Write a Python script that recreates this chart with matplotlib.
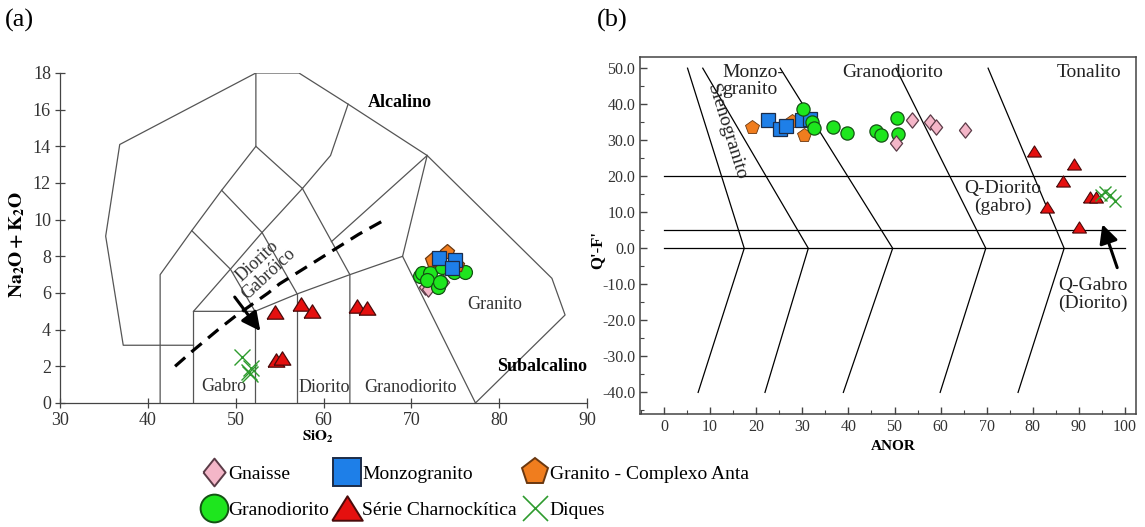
import numpy as np
import matplotlib
matplotlib.use('Agg')
import matplotlib.pyplot as plt
from matplotlib.lines import Line2D
from matplotlib.ticker import MultipleLocator, FormatStrFormatter

plt.rcParams['font.family'] = 'serif'
plt.rcParams['font.serif'] = ['Liberation Serif', 'DejaVu Serif']
plt.rcParams['mathtext.fontset'] = 'stix'
plt.rcParams['axes.unicode_minus'] = False

# ---------------- (a) TAS : SiO2 vs Na2O+K2O ----------------
gna_si = [71.6, 71.9, 73.6]
gna_alk = [6.3, 6.2, 6.6]
mzg_si = [73.2, 75.0, 74.6]
mzg_alk = [7.9, 7.8, 7.35]
anta_si = [74.1, 75.2, 72.4]
anta_alk = [8.25, 7.5, 7.8]
grd_si = [71.0, 71.2, 72.1, 73.5, 74.8, 76.1, 71.8, 73.0, 73.3]
grd_alk = [6.9, 7.1, 7.1, 7.4, 7.15, 7.15, 6.7, 6.3, 6.6]
cha_si = [54.5, 57.4, 58.7, 63.8, 65.0, 54.6, 55.3]
cha_alk = [4.95, 5.4, 5.0, 5.3, 5.2, 2.35, 2.45]
diq_si = [50.7, 51.5, 51.8, 51.6]
diq_alk = [2.5, 1.7, 1.9, 1.6]

# field boundaries (Middlemost, plutonic)
tas_lines = [
    [(45.2, 3.15), (37.2, 3.15), (35.2, 9.1), (36.8, 14.1), (52.3, 18), (57.2, 18),
     (62.8, 16.3), (71.8, 13.5), (86.0, 6.8), (87.5, 4.8), (77.3, 0)],
    [(41.4, 0), (41.4, 7.0), (45.0, 9.4), (48.4, 11.6), (52.3, 14.0), (52.3, 18)],
    [(52.3, 14.0), (57.6, 11.7), (60.8, 13.5), (62.8, 16.3)],
    [(57.6, 11.7), (63, 7), (63, 0)],
    [(45.2, 0), (45.2, 5), (52.2, 5), (57, 5.95), (63, 7), (69, 8), (71.8, 13.5)],
    [(52.2, 0), (52.2, 5)],
    [(57, 0), (57, 5.95)],
    [(69, 8), (77.3, 0)],
    [(71.8, 13.5), (60.9, 8.8)],
    [(45.2, 5), (49.4, 7.3), (53, 9.3), (57.6, 11.7)],
    [(45.0, 9.4), (49.4, 7.3), (52.2, 5)],
    [(48.4, 11.6), (53, 9.3), (57, 5.95)],
]
# alkaline / subalkaline divide
ib_si = [43.1, 45, 48, 50, 53.7, 55, 60, 64, 67]
ib_alk = [2.0, 2.8, 4.0, 4.75, 6.0, 6.5, 8.0, 9.2, 10.0]

# ---------------- (b) Q'-F' vs ANOR ----------------
gna_anor = [50.3, 53.7, 57.7, 59.0, 65.3]
gna_q = [29.2, 35.6, 35.2, 33.8, 32.9]
mzg_anor = [22.5, 25.2, 26.5, 30.0, 31.7]
mzg_q = [35.6, 33.0, 34.0, 35.6, 36.0]
anta_anor = [19.0, 27.7, 30.4]
anta_q = [33.6, 35.4, 31.5]
grd_anor = [30.2, 32.0, 32.5, 36.7, 39.8, 46.0, 47.1, 50.6, 50.8]
grd_q = [38.6, 35.2, 33.5, 33.8, 32.1, 32.5, 31.4, 36.3, 31.8]
cha_anor = [80.3, 88.9, 86.6, 92.3, 93.7, 83.1, 90.0]
cha_q = [27.0, 23.3, 18.8, 14.2, 14.2, 11.6, 6.0]
diq_anor = [94.9, 95.7, 96.7, 97.8]
diq_q = [14.8, 15.7, 14.8, 13.0]

qanor_hlines = [20, 5, 0]
qanor_lines = [
    [(5.1, 50), (17.4, 0), (7.4, -40)],
    [(8.4, 50), (31.3, 0), (21.9, -40)],
    [(25.2, 50), (49.6, 0), (38.9, -40)],
    [(50.3, 50), (69.8, 0), (59.9, -40)],
    [(70.3, 50), (86.8, 0), (76.8, -40)],
]

# marker styles
diamond = [(-0.8, 0), (0, 1), (0.8, 0), (0, -1), (-0.8, 0)]
tri = [(-1, -0.8), (1, -0.8), (0, 0.8), (-1, -0.8)]
styles = {
    'Gnaisse': dict(marker=diamond, mfc='#f4b6c8', mec='#5b3b47'),
    'Monzogranito': dict(marker='s', mfc='#1e7fe8', mec='#1c2c48'),
    'Granito - Complexo Anta': dict(marker='p', mfc='#f07d1e', mec='#6a3810'),
    'Granodiorito': dict(marker='o', mfc='#1ee61e', mec='#145214'),
    'Série Charnockítica': dict(marker=tri, mfc='#e5100f', mec='#4a0a0a'),
    'Diques': dict(marker='x', color='#2e9b2e'),
}

fig = plt.figure(figsize=(11.45, 5.27), dpi=100)

# ---------- panel (a)
ax = fig.add_axes([0.0524, 0.2353, 0.4603, 0.6262])
for ln in tas_lines:
    xs, ys = zip(*ln)
    ax.plot(xs, ys, color='#555555', lw=0.9, zorder=1)
ax.plot(ib_si, ib_alk, color='k', lw=2.3, ls=(0, (4.2, 2.6)), zorder=2)
ax.annotate('', xy=(53.0, 3.8), xytext=(49.7, 5.9),
            arrowprops=dict(arrowstyle='-|>', color='k', lw=2.2, mutation_scale=28), zorder=3)

ax.plot(gna_si, gna_alk, ls='none', ms=11, mew=0.9, zorder=4, **styles['Gnaisse'])
ax.plot(grd_si, grd_alk, ls='none', ms=10, mew=0.9, zorder=5, **styles['Granodiorito'])
ax.plot(anta_si, anta_alk, ls='none', ms=11, mew=0.9, zorder=6, **styles['Granito - Complexo Anta'])
ax.plot(mzg_si, mzg_alk, ls='none', ms=10, mew=0.9, zorder=7, **styles['Monzogranito'])
ax.plot(cha_si, cha_alk, ls='none', ms=12, mew=0.9, zorder=8, **styles['Série Charnockítica'])
ax.plot(diq_si, diq_alk, ls='none', ms=11, mew=1.0, zorder=9, **styles['Diques'])

ax.set_xlim(30, 90)
ax.set_ylim(0, 18)
ax.xaxis.set_major_locator(MultipleLocator(10))
ax.yaxis.set_major_locator(MultipleLocator(2))
for s in ['top', 'right']:
    ax.spines[s].set_visible(False)
for s in ['left', 'bottom']:
    ax.spines[s].set_color('#444444')
    ax.spines[s].set_linewidth(0.9)
ax.tick_params(direction='inout', length=7, width=0.9, color='#444444',
               labelsize=13, labelcolor='#333333', pad=3)
ax.set_ylabel(r'$\mathbf{Na_2O + K_2O}$', fontsize=14)
ax.yaxis.set_label_coords(-0.062, 0.48)
ax.set_xlabel(r'$\mathbf{SiO_2}$', fontsize=11)
ax.xaxis.set_label_coords(0.49, -0.078)

ax.text(68.7, 16.4, 'Alcalino', fontsize=13, weight='bold', ha='center', va='center')
ax.text(84.9, 2.0, 'Subalcalino', fontsize=13, weight='bold', ha='center', va='center')
ax.text(79.5, 5.35, 'Granito', fontsize=13, color='#333333', ha='center', va='center')
ax.text(69.9, 0.87, 'Granodiorito', fontsize=13, color='#333333', ha='center', va='center')
ax.text(60.1, 0.87, 'Diorito', fontsize=13, color='#333333', ha='center', va='center')
ax.text(48.6, 0.9, 'Gabro', fontsize=13, color='#333333', ha='center', va='center')
ax.text(53.1, 7.4, 'Diorito\nGabróico', fontsize=13, color='#333333', ha='center',
        va='center', rotation=43, linespacing=1.0)

# ---------- panel (b)
bx = fig.add_axes([0.559, 0.2144, 0.4332, 0.6774])
for y in qanor_hlines:
    bx.plot([0, 100], [y, y], color='k', lw=0.9, zorder=1)
for ln in qanor_lines:
    xs, ys = zip(*ln)
    bx.plot(xs, ys, color='k', lw=0.9, zorder=1)
bx.annotate('', xy=(94.9, 7.4), xytext=(98.5, -6.1),
            arrowprops=dict(arrowstyle='-|>', color='k', lw=2.2, mutation_scale=28), zorder=3)

bx.plot(anta_anor, anta_q, ls='none', ms=10, mew=0.6, zorder=4, **styles['Granito - Complexo Anta'])
bx.plot(mzg_anor, mzg_q, ls='none', ms=10, mew=0.9, zorder=5, **styles['Monzogranito'])
bx.plot(grd_anor, grd_q, ls='none', ms=9.5, mew=0.9, zorder=6, **styles['Granodiorito'])
bx.plot(gna_anor, gna_q, ls='none', ms=11, mew=0.9, zorder=7, **styles['Gnaisse'])
bx.plot(cha_anor, cha_q, ls='none', ms=10, mew=0.8, zorder=8, **styles['Série Charnockítica'])
bx.plot(diq_anor, diq_q, ls='none', ms=9, mew=1.0, zorder=9, **styles['Diques'])

bx.set_xlim(-5.2, 102.4)
bx.set_ylim(-46, 53.1)
bx.xaxis.set_major_locator(MultipleLocator(10))
bx.xaxis.set_minor_locator(MultipleLocator(5))
bx.yaxis.set_major_locator(MultipleLocator(10))
bx.yaxis.set_minor_locator(MultipleLocator(5))
bx.yaxis.set_major_formatter(FormatStrFormatter('%.1f'))
bx.set_xticks(np.arange(0, 101, 10))
bx.set_yticks(np.arange(-40, 51, 10))
for s in bx.spines.values():
    s.set_color('#444444')
    s.set_linewidth(1.1)
bx.tick_params(which='both', direction='in', color='#444444', labelsize=11.5,
               labelcolor='#333333')
bx.tick_params(which='major', length=5, width=1.0)
bx.tick_params(which='minor', length=3, width=0.8)
bx.set_ylabel("Q'-F'", fontsize=12, weight='bold')
bx.yaxis.set_label_coords(-0.07, 0.46)
bx.set_xlabel('ANOR', fontsize=11, weight='bold')
bx.xaxis.set_label_coords(0.51, -0.072)

bx.text(12.6, 51.2, 'Monzo-\ngranito', fontsize=14, color='#222222', ha='left', va='top',
        linespacing=1.0)
bx.text(49.5, 48.8, 'Granodiorito', fontsize=14, color='#222222', ha='center', va='center')
bx.text(92.1, 48.8, 'Tonalito', fontsize=14, color='#222222', ha='center', va='center')
bx.text(13.6, 32.2, 'Sienogranito', fontsize=14, color='#222222', ha='center', va='center',
        rotation=-72.7)
bx.text(73.5, 14.0, 'Q-Diorito\n(gabro)', fontsize=14, color='#222222', ha='center',
        va='center', linespacing=1.05)
bx.text(93.0, -12.7, 'Q-Gabro\n(Diorito)', fontsize=14, color='#222222', ha='center',
        va='center', linespacing=1.05)

fig.text(0.004, 0.962, '(a)', fontsize=19, ha='left', va='center')
fig.text(0.521, 0.962, '(b)', fontsize=19, ha='left', va='center')

# ---------- legend
order = ['Gnaisse', 'Granodiorito', 'Monzogranito', 'Série Charnockítica',
         'Granito - Complexo Anta', 'Diques']
sizes = {'Gnaisse': 20, 'Granodiorito': 20, 'Monzogranito': 20,
         'Série Charnockítica': 22, 'Granito - Complexo Anta': 20, 'Diques': 18}
handles = []
for name in order:
    st = dict(styles[name])
    handles.append(Line2D([], [], ls='none', ms=sizes[name],
                          mew=1.4 if name != 'Diques' else 1.2, label=name, **st))
fig.legend(handles=handles, loc='upper left', bbox_to_anchor=(0.178, 0.117), ncol=3,
           frameon=False, fontsize=14, handlelength=1.0, handletextpad=0.25,
           columnspacing=0.45, labelspacing=0.95, borderpad=0, borderaxespad=0)

fig.savefig('out.png', dpi=100)
